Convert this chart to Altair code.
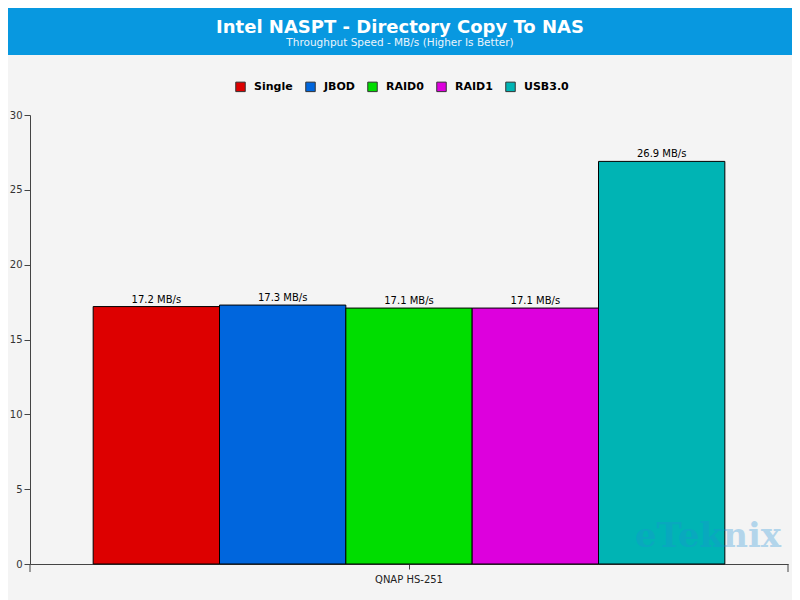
import altair as alt
import pandas as pd

device = "QNAP HS-251"
series = ["Single", "JBOD", "RAID0", "RAID1", "USB3.0"]
values = [17.2, 17.3, 17.1, 17.1, 26.9]
colors = ["#DD0000", "#0066DD", "#00DD00", "#DD00DD", "#00B4B4"]
title_text = "Intel NASPT - Directory Copy To NAS"
subtitle_text = "Throughput Speed - MB/s (Higher Is Better)"
y_ticks = [0, 5, 10, 15, 20, 25, 30]
watermark = "eTeknix"

df = pd.DataFrame({
    "device": [device] * len(series),
    "series": series,
    "value": values,
    "label": [f"{v} MB/s" for v in values],
})

W, H = 758, 449
FONT = "DejaVu Sans"
AX = "#444444"

x = alt.X("device:N", title=None,
          scale=alt.Scale(paddingOuter=0.1, paddingInner=0),
          axis=alt.Axis(labelAngle=0, tickSize=5, labelPadding=5, labelFontSize=10,
                        labelFont=FONT, labelColor="#222222", domainColor=AX,
                        tickColor=AX))
xoff = alt.XOffset("series:N", sort=series,
                   scale=alt.Scale(paddingInner=0, paddingOuter=0))
y = alt.Y("value:Q", title=None, scale=alt.Scale(domain=[0, 30]),
          axis=alt.Axis(values=y_ticks, grid=False, tickSize=6, labelPadding=2,
                        labelFontSize=10, labelFont=FONT, labelColor="#333333",
                        domainColor=AX, tickColor=AX))

base = alt.Chart(df)
bars = base.mark_bar(stroke="black", strokeWidth=1).encode(
    x=x, xOffset=xoff, y=y,
    color=alt.Color("series:N", sort=series,
                    scale=alt.Scale(domain=series, range=colors),
                    legend=alt.Legend(orient="none", legendX=205, legendY=-34,
                                      direction="horizontal", title=None,
                                      symbolType="square", symbolSize=90,
                                      symbolStrokeColor="#333333", symbolStrokeWidth=1,
                                      symbolOpacity=1, labelFont=FONT,
                                      labelFontWeight="bold", labelFontSize=11,
                                      labelColor="black", columnPadding=10,
                                      labelOffset=8)),
)
labels = base.mark_text(baseline="bottom", dy=-2, fontSize=10, font=FONT,
                        color="black").encode(x=x, xOffset=xoff, y=y, text="label:N")

one = pd.DataFrame({"k": [0]})
band = alt.Chart(one).mark_rect(color="#0898E0").encode(
    x=alt.value(-22), x2=alt.value(762), y=alt.value(-107), y2=alt.value(-60))
ttl = alt.Chart(one).mark_text(text=title_text, font=FONT, fontSize=18,
                               fontWeight="bold", color="white", align="center",
                               baseline="alphabetic").encode(
    x=alt.value(370), y=alt.value(-82))
sub = alt.Chart(one).mark_text(text=subtitle_text, font=FONT, fontSize=10.5,
                               color="#EAF4FC", align="center",
                               baseline="alphabetic").encode(
    x=alt.value(370), y=alt.value(-69))
wm = alt.Chart(one).mark_text(text=watermark, font="DejaVu Serif", fontWeight="bold",
                              fontSize=34, color="#1E8FD8", opacity=0.3,
                              align="center", baseline="alphabetic").encode(
    x=alt.value(678), y=alt.value(432))
tick_l = alt.Chart(one).mark_rule(color=AX).encode(
    x=alt.value(0), y=alt.value(449), y2=alt.value(457))
tick_r = alt.Chart(one).mark_rule(color=AX).encode(
    x=alt.value(758), y=alt.value(449), y2=alt.value(457))

chart = alt.layer(band, ttl, sub, bars, labels, wm, tick_l, tick_r).properties(
    width=W, height=H,
    padding={"left": 22, "top": 107, "right": 4, "bottom": 36},
    autosize=alt.AutoSizeParams(type="none"),
    background="#F4F4F4",
).configure_view(stroke=None)

chart.save("out.html", embed_options={"renderer": "svg", "actions": False})
